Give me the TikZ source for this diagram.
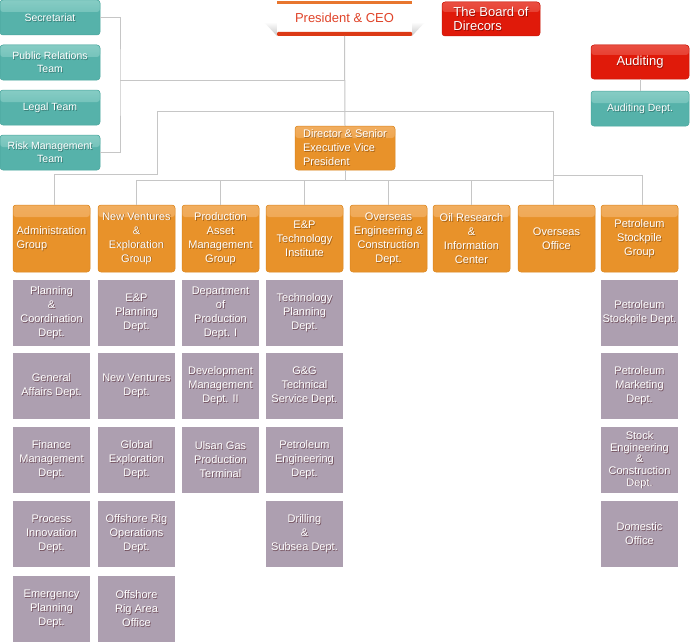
\documentclass[tikz,border=0pt]{standalone}
\usepackage{fontspec}
\setmainfont{Liberation Sans}
\usetikzlibrary{calc}
\definecolor{tealF}{HTML}{56B2AA}
\definecolor{tealH}{HTML}{86CCC4}
\definecolor{tealD}{HTML}{4AA69D}
\definecolor{tealS}{HTML}{2A6660}
\definecolor{orgF}{HTML}{E8922A}
\definecolor{orgH}{HTML}{F1AE60}
\definecolor{orgD}{HTML}{DB861F}
\definecolor{orgS}{HTML}{8A4E0E}
\definecolor{redF}{HTML}{E01A0A}
\definecolor{redH}{HTML}{EA4F42}
\definecolor{redD}{HTML}{C81608}
\definecolor{redS}{HTML}{7A0800}
\definecolor{purF}{HTML}{AD9FB0}
\definecolor{purS}{HTML}{6A4450}
\definecolor{lineC}{HTML}{C6C6C6}
\definecolor{ceoTop}{HTML}{E8762E}
\definecolor{ceoBot}{HTML}{DC3A16}
\definecolor{ceoTxt}{HTML}{E0442A}
\tikzset{
  base/.style={rectangle, anchor=north west, inner sep=0pt, outer sep=0pt},
  tealbox/.style={base, rounded corners=3pt, fill=tealF, draw=tealD, line width=0.5pt,
    minimum width=100pt, minimum height=35pt,
    path picture={\shade[top color=tealH, bottom color=tealF] (path picture bounding box.north west) rectangle ([yshift=-12pt]path picture bounding box.north east);}},
  orgbox/.style={base, rounded corners=3pt, fill=orgF, draw=orgD, line width=0.5pt,
    minimum width=77pt, minimum height=67pt,
    path picture={\shade[top color=orgH, bottom color=orgF] (path picture bounding box.north west) rectangle ([yshift=-12pt]path picture bounding box.north east);}},
  redbox/.style={base, rounded corners=3pt, fill=redF, draw=redD, line width=0.5pt,
    minimum width=98pt, minimum height=34pt,
    path picture={\shade[top color=redH, bottom color=redF] (path picture bounding box.north west) rectangle ([yshift=-10pt]path picture bounding box.north east);}},
  purbox/.style={base, fill=purF, minimum width=77pt, minimum height=66pt},
  tx/.style={inner sep=0pt, align=center, text=white},
  tealtx/.style={font=\fontsize{10.5}{12.8}\selectfont},
  orgtx/.style={font=\fontsize{11}{14}\selectfont},
  redtx/.style={font=\fontsize{13}{14}\selectfont},
  purtx/.style={font=\fontsize{11}{14}\selectfont},
  tealsh/.style={text=tealS, text opacity=0.7},
  orgsh/.style={text=orgS, text opacity=0.7},
  redsh/.style={text=redS, text opacity=0.7},
  pursh/.style={text=purS, text opacity=0.85},
  conn/.style={draw=lineC, line width=1pt},
}
% #1 box extra, #2 name, #3 type, #4 x, #5 y (top-left), #6 text options, #7 text
\newcommand\ob[7][]{%
  \node[#3box, #1] (#2) at (#4,#5) {};
  \node[tx, #3tx, #3sh, #6] at ([shift={(0.8pt,-0.8pt)}]#2.center) {#7};
  \node[tx, #3tx, #6] (#2t) at (#2.center) {#7};
}
\begin{document}
\begin{tikzpicture}[x=1pt,y=-1pt]
\useasboundingbox (0,0) rectangle (690,642);
\fill[white] (0,0) rectangle (690,642);

% ---- top level ----
\ob{sec}{teal}{0}{0}{}{Secretariat}
\ob{pub}{teal}{0}{45}{}{Public Relations\\Team}
\ob{leg}{teal}{0}{90}{}{Legal Team}
\ob{risk}{teal}{0}{135}{}{Risk Management\\Team}

% President & CEO
\node[base, minimum width=135pt, minimum height=36pt] (ceo) at (277,0) {};
\shade[top color=white, bottom color=black!22] ([xshift=-13pt,yshift=14pt]ceo.south west) -- ([yshift=14pt]ceo.south west) -- (ceo.south west) -- cycle;
\shade[top color=white, bottom color=black!22] ([xshift=13pt,yshift=14pt]ceo.south east) -- ([yshift=14pt]ceo.south east) -- (ceo.south east) -- cycle;
\fill[white] (ceo.north west) rectangle (ceo.south east);
\fill[ceoTop] ([yshift=-1pt]ceo.north west) rectangle ([yshift=-4.5pt]ceo.north east);
\fill[ceoBot, rounded corners=1pt] ([yshift=4pt]ceo.south west) rectangle (ceo.south east);
\node[inner sep=0pt, text=ceoTxt, font=\fontsize{13}{14}\selectfont] (ceot) at ([yshift=0.5pt]ceo.center) {President \& CEO};

\ob{board}{red}{442}{2}{align=left}{The Board of\\Direcors}
\ob{aud}{red}{591}{45}{}{Auditing}
\ob[minimum width=98pt]{audd}{teal}{591}{91}{}{Auditing Dept.}

\ob[minimum width=100pt, minimum height=44pt]{dir}{org}{295}{126}{align=left}{Director \& Senior\\Executive Vice\\President}

% ---- groups ----
\ob{adm}{org}{13}{205}{align=left}{Administration\\Group}
\ob{nv}{org}{98}{205}{}{New Ventures\\\&\\Exploration\\Group}
\ob{pr}{org}{182}{205}{}{Production\\Asset\\Management\\Group}
\ob{ep}{org}{266}{205}{}{E\&P\\Technology\\Institute}
\ob{oe}{org}{350}{205}{}{Overseas\\Engineering \&\\Construction\\Dept.}
\ob{oil}{org}{433}{205}{}{Oil Research\\\&\\Information\\Center}
\ob{oo}{org}{518}{205}{}{Overseas\\Office}
\ob{pet}{org}{601}{205}{}{Petroleum\\Stockpile\\Group}

% ---- departments ----
\ob{a1}{pur}{13}{280}{}{Planning\\\&\\Coordination\\Dept.}
\ob{a2}{pur}{13}{353}{}{General\\Affairs Dept.}
\ob{a3}{pur}{13}{427}{}{Finance\\Management\\Dept.}
\ob{a4}{pur}{13}{501}{}{Process\\Innovation\\Dept.}
\ob{a5}{pur}{13}{576}{}{Emergency\\Planning\\Dept.}

\ob{b1}{pur}{98}{280}{}{E\&P\\Planning\\Dept.}
\ob{b2}{pur}{98}{353}{}{New Ventures\\Dept.}
\ob{b3}{pur}{98}{427}{}{Global\\Exploration\\Dept.}
\ob{b4}{pur}{98}{501}{}{Offshore Rig\\Operations\\Dept.}
\ob{b5}{pur}{98}{576}{}{Offshore\\Rig Area\\Office}

\ob{c1}{pur}{182}{280}{}{Department\\of\\Production\\Dept. I}
\ob{c2}{pur}{182}{353}{}{Development\\Management\\Dept. II}
\ob{c3}{pur}{182}{427}{}{Ulsan Gas\\Production\\Terminal}

\ob{d1}{pur}{266}{280}{}{Technology\\Planning\\Dept.}
\ob{d2}{pur}{266}{353}{}{G\&G\\Technical\\Service Dept.}
\ob{d3}{pur}{266}{427}{}{Petroleum\\Engineering\\Dept.}
\ob{d4}{pur}{266}{501}{}{Drilling\\\&\\Subsea Dept.}

\ob{e1}{pur}{601}{280}{}{Petroleum\\Stockpile Dept.}
\ob{e2}{pur}{601}{353}{}{Petroleum\\Marketing\\Dept.}
\ob{e3}{pur}{601}{427}{font=\fontsize{11}{11.6}\selectfont}{Stock\\Engineering\\\&\\Construction\\Dept.}
\ob{e4}{pur}{601}{501}{}{Domestic\\Office}

% ---- connectors ----
\coordinate (lj) at (120,80);
\coordinate (bus) at (0,180);
\coordinate (ra) at (157,111);
\coordinate (ra1) at (157,174);
\coordinate (rb) at (553,111);
\coordinate (rb1) at (553,175);
\coordinate (admn) at ([xshift=2.5pt]adm.north);
\coordinate (petn) at ([xshift=2.5pt]pet.north);
\coordinate (oon) at ([xshift=-3.5pt]oo.north);

\draw[conn] (sec.east) -| (lj) |- (risk.east);
\draw[conn] (lj) -- (lj -| ceo.south);
\draw[conn] (ceo.south) -- (dir.north);
\draw[conn] (dir.south) -- (dir.south |- bus);
\draw[conn] (admn) |- (ra1) -- (ra) -- (rb) -- (oon);
\draw[conn] (rb1) -| (petn);
\draw[conn] (nv.north) |- (oon |- bus);
\foreach \n in {pr,ep,oe,oil} \draw[conn] (\n.north) -- (\n.north |- bus);
\draw[conn] (aud.south) -- (audd.north);
\end{tikzpicture}
\end{document}
